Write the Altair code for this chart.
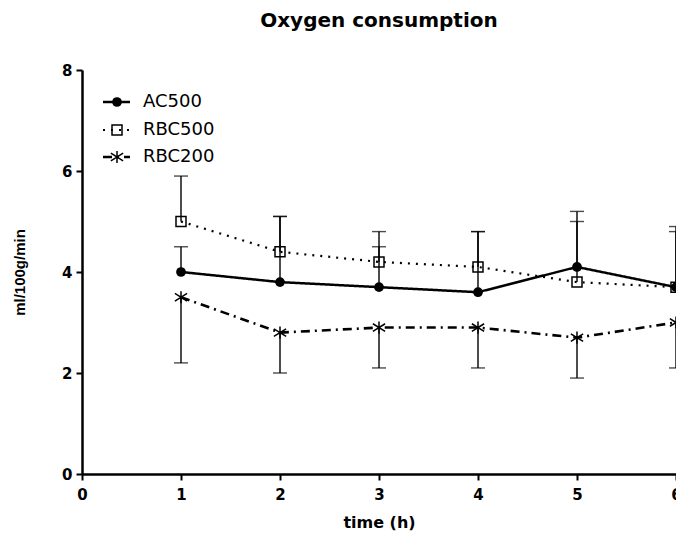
import altair as alt
import pandas as pd

# ---- data ----
times = [1, 2, 3, 4, 5, 6]
series_names = ["AC500", "RBC500", "RBC200"]
ac500 = [4.0, 3.8, 3.7, 3.6, 4.1, 3.7]
ac500_sd = [0.5, 1.3, 0.8, 1.2, 1.1, 1.1]
rbc500 = [5.0, 4.4, 4.2, 4.1, 3.8, 3.7]
rbc500_sd = [0.9, 0.7, 0.6, 0.7, 1.2, 1.2]
rbc200 = [3.5, 2.8, 2.9, 2.9, 2.7, 3.0]
rbc200_sd = [1.3, 0.8, 0.8, 0.8, 0.8, 0.9]
x_ticks = [0, 1, 2, 3, 4, 5, 6]
y_ticks = [0, 2, 4, 6, 8]

STAR = "M-1,-0.62L1,0.62M-1,0.62L1,-0.62M0,-1L0,1"

styles = {
    "AC500": dict(means=ac500, sd=ac500_sd, sign=1, dash=[1, 0], width=2.5,
                  shape="circle", size=95, filled=True),
    "RBC500": dict(means=rbc500, sd=rbc500_sd, sign=1, dash=[2, 6], width=2.2,
                   shape="square", size=100, filled=False),
    "RBC200": dict(means=rbc200, sd=rbc200_sd, sign=-1, dash=[9, 5, 2, 5], width=2.6,
                   shape=STAR, size=150, filled=False),
}

xscale = alt.Scale(domain=[0, 6], nice=False)
yscale = alt.Scale(domain=[0, 8], nice=False)
xax = alt.Axis(values=x_ticks, title="time (h)", format="d", labelFlush=False)
yax = alt.Axis(values=y_ticks, title="ml/100g/min", format="d", labelFlush=False)

layers = []
legend_rows = [32, 60, 87]
for i, name in enumerate(series_names):
    s = styles[name]
    df = pd.DataFrame({
        "time": times,
        "mean": s["means"],
        "end": [m + s["sign"] * d for m, d in zip(s["means"], s["sd"])],
        "name": name,
    })
    base = alt.Chart(df)
    err = base.mark_rule(color="black", strokeWidth=1.4).encode(
        x=alt.X("time:Q", scale=xscale, axis=xax),
        y=alt.Y("mean:Q", scale=yscale, axis=yax),
        y2="end:Q",
    )
    cap = base.mark_tick(color="black", thickness=1.4, size=14, orient="horizontal").encode(
        x=alt.X("time:Q", scale=xscale),
        y=alt.Y("end:Q", scale=yscale),
    )
    line = base.mark_line(color="black", strokeWidth=s["width"], strokeDash=s["dash"]).encode(
        x=alt.X("time:Q", scale=xscale),
        y=alt.Y("mean:Q", scale=yscale),
    )
    pt = base.mark_point(
        shape=s["shape"], size=s["size"], filled=s["filled"],
        color="black", strokeWidth=1.5, opacity=1,
    ).encode(x=alt.X("time:Q", scale=xscale), y=alt.Y("mean:Q", scale=yscale))
    layers += [err, cap, line, pt]

    # legend entry
    ldf = pd.DataFrame({"name": [name]})
    lb = alt.Chart(ldf)
    ly = legend_rows[i]
    lline = lb.mark_rule(color="black", strokeWidth=s["width"], strokeDash=s["dash"]).encode(
        x=alt.value(21), x2=alt.value(48), y=alt.value(ly)
    )
    lpt = lb.mark_point(shape=s["shape"], size=s["size"], filled=s["filled"],
                        color="black", strokeWidth=1.5, opacity=1).encode(
        x=alt.value(35), y=alt.value(ly)
    )
    ltxt = lb.mark_text(align="left", baseline="middle", font="DejaVu Sans",
                        fontSize=18, color="black").encode(
        x=alt.value(61), y=alt.value(ly), text="name:N"
    )
    layers += [lline, lpt, ltxt]

chart = alt.layer(*layers).properties(
    width=594,
    height=404,
    title=alt.TitleParams("Oxygen consumption", font="DejaVu Sans", fontSize=20,
                          fontWeight="bold", anchor="middle", offset=32, color="black"),
    autosize=alt.AutoSizeParams(type="none"),
    padding={"left": 74, "top": 62, "right": 0, "bottom": 60},
).configure_view(stroke=None).configure_axis(
    grid=False,
    domainColor="black",
    domainWidth=2.5,
    tickColor="black",
    tickWidth=2,
    tickSize=6,
    labelFont="DejaVu Sans",
    labelFontWeight="bold",
    labelFontSize=15,
    labelColor="black",
    titleColor="black",
).configure_axisX(
    labelPadding=7,
    titleFont="DejaVu Sans",
    titleFontSize=16,
    titleFontWeight="bold",
    titlePadding=12,
).configure_axisY(
    labelPadding=4,
    titleFont="Liberation Sans",
    titleFontSize=15,
    titleFontWeight="bold",
    titlePadding=34,
)

chart.save("out.html", embed_options={"renderer": "svg", "actions": False})
